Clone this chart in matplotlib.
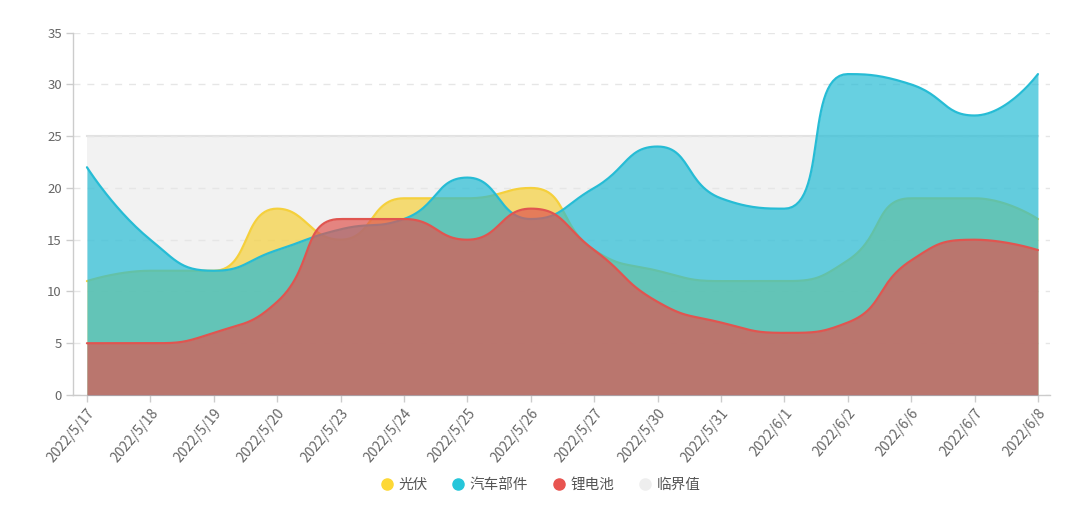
import numpy as np
import matplotlib.pyplot as plt
from matplotlib.lines import Line2D

plt.rcParams['font.family'] = ['Noto Sans CJK SC', 'DejaVu Sans']

dates = ["2022/5/17", "2022/5/18", "2022/5/19", "2022/5/20", "2022/5/23", "2022/5/24",
         "2022/5/25", "2022/5/26", "2022/5/27", "2022/5/30", "2022/5/31", "2022/6/1",
         "2022/6/2", "2022/6/6", "2022/6/7", "2022/6/8"]
guangfu = [11, 12, 12, 18, 15, 19, 19, 20, 14, 12, 11, 11, 13, 19, 19, 17]
qiche   = [22, 15, 12, 14, 16, 17, 21, 17, 20, 24, 19, 18, 31, 30, 27, 31]
lidian  = [5, 5, 6, 9, 17, 17, 15, 18, 14, 9, 7, 6, 7, 13, 15, 14]
linjie  = [25] * len(dates)

series = [
    ("光伏", guangfu, "#f5d03c", "#fdd835"),
    ("汽车部件", qiche, "#26bcd5", "#26c6da"),
    ("锂电池", lidian, "#e05550", "#e85450"),
]

# pixel scale of the plot (used so the smoothing behaves like the original)
SX, SY = 63.4, 10.37


def clamp(v, a, b):
    return min(max(v, min(a, b)), max(a, b))


def smooth_curve(ys, smooth=0.5, nseg=30):
    pts = [(i * SX, y * SY) for i, y in enumerate(ys)]
    n = len(pts)
    out = [pts[0]]
    cpx0, cpy0 = pts[0]
    for k in range(1, n):
        px, py = pts[k - 1]
        x, y = pts[k]
        if k == n - 1:
            cpx1, cpy1 = x, y
            ncx, ncy = x, y
        else:
            nx, ny = pts[k + 1]
            vx, vy = nx - px, ny - py
            lp = np.hypot(x - px, y - py)
            ln = np.hypot(nx - x, ny - y)
            r = ln / (ln + lp)
            ncx = x + vx * smooth * r
            ncy = y + vy * smooth * r
            ncx = clamp(ncx, x, nx)
            ncy = clamp(ncy, y, ny)
            vx, vy = ncx - x, ncy - y
            cpx1 = x - vx * lp / ln
            cpy1 = y - vy * lp / ln
            cpx1 = clamp(cpx1, px, x)
            cpy1 = clamp(cpy1, py, y)
            vx, vy = x - cpx1, y - cpy1
            ncx = x + vx * ln / lp
            ncy = y + vy * ln / lp
        t = np.linspace(0, 1, nseg)[1:]
        bx = (1 - t) ** 3 * px + 3 * (1 - t) ** 2 * t * cpx0 + 3 * (1 - t) * t ** 2 * cpx1 + t ** 3 * x
        by = (1 - t) ** 3 * py + 3 * (1 - t) ** 2 * t * cpy0 + 3 * (1 - t) * t ** 2 * cpy1 + t ** 3 * y
        out.extend(zip(bx, by))
        cpx0, cpy0 = ncx, ncy
    arr = np.array(out)
    return arr[:, 0] / SX, arr[:, 1] / SY


fig = plt.figure(figsize=(10.8, 5.25), dpi=100)
ax = fig.add_axes([73 / 1080, 1 - 395 / 525, (1050 - 73) / 1080, (395 - 32.7) / 525])

x = np.arange(len(dates))

# threshold band
ax.fill_between(x, 0, linjie, color="#eeeeee", alpha=0.75, lw=0, zorder=1)
ax.plot(x, linjie, color="#e2e2e2", lw=1.5, zorder=1.5)

for i, (name, vals, lc, _) in enumerate(series):
    sx, sy = smooth_curve(vals)
    ax.fill_between(sx, 0, sy, color=lc, alpha=0.7, lw=0, zorder=2 + i)
    ax.plot(sx, sy, color=lc, lw=1.6, zorder=2.5 + i, solid_capstyle="round")

ax.set_xlim(-0.22, len(dates) - 1 + 0.19)
ax.set_ylim(0, 35)
ax.set_yticks(range(0, 36, 5))
ax.set_xticks(x)
ax.set_xticklabels(dates, rotation=50, ha="right", rotation_mode="anchor")
ax.tick_params(axis="x", colors="#cccccc", length=5, width=1, labelcolor="#666666",
               labelsize=10, pad=3)
ax.tick_params(axis="y", colors="#cccccc", length=5, width=1, labelcolor="#666666",
               labelsize=9.5, pad=3)
ax.grid(axis="y", color="#e6e6e6", ls=(0, (5, 5)), lw=1, zorder=0)
for s in ["top", "right"]:
    ax.spines[s].set_visible(False)
for s in ["left", "bottom"]:
    ax.spines[s].set_color("#cccccc")
    ax.spines[s].set_linewidth(1)

handles = [Line2D([], [], ls="none", marker="o", markersize=8, markerfacecolor=c,
                  markeredgecolor=c) for _, _, _, c in series]
handles.append(Line2D([], [], ls="none", marker="o", markersize=8,
                      markerfacecolor="#eeeeee", markeredgecolor="#eeeeee"))
labels = [s[0] for s in series] + ["临界值"]
fig.legend(handles, labels, loc="center", bbox_to_anchor=(0.5, 1 - 485 / 525), ncol=4,
           frameon=False, fontsize=10.5, handletextpad=0.3, handlelength=1.0,
           columnspacing=1.6, labelcolor="#555555")

fig.savefig("out.png", dpi=100)
